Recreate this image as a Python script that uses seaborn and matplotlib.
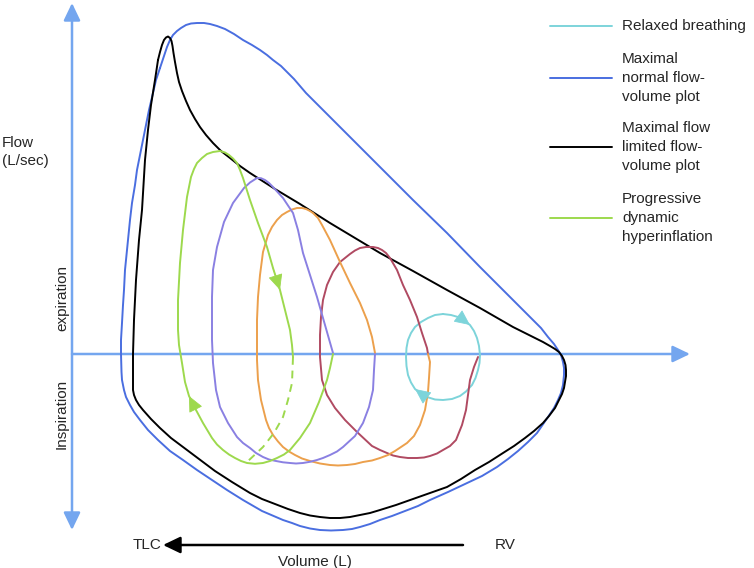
import numpy as np
import pandas as pd
import matplotlib
matplotlib.use("Agg")
import matplotlib.pyplot as plt
import seaborn as sns
from matplotlib.patches import FancyArrowPatch

sns.set_style("white")
plt.rcParams['font.family'] = ['Liberation Sans', 'DejaVu Sans']

# ---------------- data (diagram units: x = volume position, y = flow position, screen-like) -------------
normal_x = [160,164,167,170,173,177,181,186,191,197,204,210,217,225,234,243,252,260,267,273,281,288,294,300,306,313,347,380,413,447,480,513,524,533,541,548,554,558,561,563,564,564,563,561,558,554,548,537,528,518,508,497,482,465,448,430,418,405,392,380,370,360,352,343,331,320,310,300,292,283,262,243,227,212,197,183,170,158,148,140,134,130,126,124,122,121.5,121,121,122,123,124,125,127,130,132,135,137,140,143,146,149,153,156,160]
normal_y = [68,56,47,40,35,31,28,25,23.5,23,23,24,26,29,34,40,45,50,55,60,66,73,79,86,93,100,134,167,200,233,267,300,311,320,328,337,344,350,355,362,368,375,385,393,400,408,417,433,442,451,459,467,476,484,492,500,506,511,516,520,524,527,529,530,530.5,530,528.5,526,523,520,511,500,490,480,470,460,451,440,430,420,412,405,397,390,380,372,354,340,323,305,290,270,250,220,203,185,170,155,140,125,110,93,80,68]

limited_x = [158,160,162,164,166,168,170,171.5,172.5,173.5,175,177,179,182,186,190,195,200,206,213,221,230,240,250,275,300,330,355,380,413,447,480,513,525,535,543,550,555,559,562,564,565.5,566,566,565,564,562,559,555,549,543,534,525,514,503,489,475,461,447,430,413,396,380,370,360,350,340,330,320,310,300,288,275,262,250,232,215,199,183,171,160,151,143,139,136,134,133,133,133,133,134,136,139,142,145,148,151,155,158]
limited_y = [60,52,45,40,37.5,36.5,38,41,46,53,62,73,82,91,101,110,119,127,135,143,151,158,166,173,189,204,223,238,253,271,290,308,327,333,338,342,346,349,352,356,360,365,370,376,382,388,394,400,408,416,423,431,438,446,453,462,470,479,487,493,499,505,510,513,515,517,518,518,517,515.5,513,509,504,499,493,482,471,459,447,438,428,419,410,405,400,395,390,380,372,354,320,280,240,210,160,130,105,80,60]

relaxed_x = [443,451,458,464,470,474,477,479,480,479.5,478,475.5,472,466,460,452,443,435,427,421,415,411,408,406.5,406,406.5,408,411,415,421,428,435,443]
relaxed_y = [314,315,317,320.5,325,331,338,346,355,363,370,378,385,391.5,396,399,400,399.5,397,393.5,389,382.5,375,366,357,348,340,333,327,322,318,315,314]

red_x = [478,474,470,468,466,462,456,450,443,437,430,424,417,408,400,393,387,380,372,357,345,335,327,322,320,320,321,323,327,333,340,345,350,355,360,366,373,378,382,386,390,397,403,410,417,422,427,428]
red_y = [357,367,380,395,410,425,440,446,450,453.5,456,457.5,458,458,457,455.5,453,450,446,432,420,408,395,380,357,335,317,300,285,272,262,258,254,250.5,248,247,247,248,250,253,258,270,285,300,317,333,348,354]

orange_x = [428,430,429,428,425,420,414,407,395,388,380,372,363,355,347,338,330,320,310,302,295,289,283,278,273,269,266,261,258,257,257,257,258,260,263,268,272,277,282,287,292,297,302,306,310,313,318,322,330,340,350,360,367,372,375]
orange_y = [354,362,378,392,410,425,436,443,451,455,458,460.5,462,464,465,465.5,465,463.5,461,458.5,455,451.5,447,441.5,435,428,420,400,380,360,340,320,297,275,252,235,227,220,215,212,209.5,208,208,209,211,213,218,225,240,262,283,303,320,337,353]

purple_x = [375,374,373,369,363,355,343,337,330,323,317,310,303,296,290,283,276,269,263,256,250,243,237,228,220,216,213,212,212,213,217,224,233,244,250,257,261,265,269,273,283,293,298,303,310,317,325,333]
purple_y = [354,370,390,407,423,436,447,451.5,455,458,460,461.8,463,463.5,463,462.3,461,459.5,457,453,448,443,437,423,407,390,363,340,297,270,247,222,203,188,182.5,178,178.2,180,183,187,198,213,230,253,275,297,325,353]

green_x = [333,330,327,319,310,300,290,284,277,270,263,255,247,241,235,229,223,217,212,203,196,189,185,182,179,178,178,180,183,187,191,194,197,202,207,213,220,225,229,233,237,240,243,250,258,267,273,280,285,290,292,293]
green_y = [354,368,380,402,423,438,450,454.5,458,461,463,463.8,463,461,458,454.5,450,444.5,438,423,410,396,382,363,345,330,300,263,230,197,177,169,163,158,154,152,151,152.5,155,158.5,163,170,178,200,223,247,268,290,310,330,345,357]

green_dash_x = [293,292,288,283,274,263,247]
green_dash_y = [357,383,400,417,433,447,462]

legend_labels = ["Relaxed breathing", "Maximal\nnormal flow-\nvolume plot",
                 "Maximal flow\nlimited flow-\nvolume plot", "Progressive\ndynamic\nhyperinflation"]

C_AXIS = "#74a6ef"
C_NORMAL = "#4a6ee0"
C_LIMITED = "#000000"
C_RELAXED = "#7dd4da"
C_RED = "#b04a62"
C_ORANGE = "#eca04c"
C_PURPLE = "#8a80e2"
C_GREEN = "#9dd94d"

fig = plt.figure(figsize=(7.54, 5.68), dpi=100)
ax = fig.add_axes([0, 0, 1, 1])

AST = "-|>,head_length=0.75,head_width=0.36"

def big_arrow(p0, p1, color, style=AST):
    ax.add_patch(FancyArrowPatch(p0, p1, arrowstyle=style, mutation_scale=14, color=color,
                                 lw=1.8, shrinkA=0, shrinkB=0, zorder=1))

big_arrow((72, 530), (72, 3), C_AXIS, "<|-|>,head_length=0.75,head_width=0.36")
big_arrow((72, 354), (690, 354), C_AXIS)
big_arrow((463, 545), (163, 545), "black")

LW = 1.4

def curve(xs, ys, color, ls="-", z=3):
    df = pd.DataFrame({"v": xs, "f": ys})
    sns.lineplot(data=df, x="v", y="f", sort=False, estimator=None, color=color,
                 lw=LW, ls=ls, ax=ax, zorder=z)

curve(normal_x, normal_y, C_NORMAL)
curve(limited_x, limited_y, C_LIMITED)
curve(relaxed_x, relaxed_y, C_RELAXED)
curve(red_x, red_y, C_RED)
curve(orange_x, orange_y, C_ORANGE)
curve(purple_x, purple_y, C_PURPLE)
curve(green_x, green_y, C_GREEN)
curve(green_dash_x, green_dash_y, C_GREEN, ls=(0, (4, 3)))
ax.set_xlim(0, 754)
ax.set_ylim(568, 0)
ax.axis("off")

def head(xs, ys, i, color):
    ax.add_patch(FancyArrowPatch((xs[i], ys[i]), (xs[i + 1], ys[i + 1]),
                                 arrowstyle="-|>,head_length=0.9,head_width=0.42",
                                 mutation_scale=11, color=color, lw=0.6,
                                 shrinkA=0, shrinkB=0, zorder=4))

head(green_x, green_y, green_y.index(268), C_GREEN)
head(green_x, green_y, green_y.index(410), C_GREEN)
head(relaxed_x, relaxed_y, relaxed_y.index(320.5), C_RELAXED)
head(relaxed_x, relaxed_y, relaxed_y.index(393.5), C_RELAXED)

# legend
fs = 11
leg_colors = [C_RELAXED, C_NORMAL, C_LIMITED, C_GREEN]
leg_y = [26, 78, 147, 218]
for lab, col, yy in zip(legend_labels, leg_colors, leg_y):
    ax.plot([550, 612], [yy, yy], color=col, lw=LW)
    ax.text(622, yy, lab, fontsize=fs, va="center", ha="left", linespacing=1.42)

# axis texts
ax.text(2, 152, "Flow\n(L/sec)", fontsize=fs, va="center", ha="left", linespacing=1.3)
ax.text(62, 298, "expiration", fontsize=fs, rotation=90, va="center", ha="center")
ax.text(62, 414, "Inspiration", fontsize=fs, rotation=90, va="center", ha="center")
ax.text(133, 545, "TLC", fontsize=fs, va="center", ha="left")
ax.text(495, 545, "RV", fontsize=fs, va="center", ha="left")
ax.text(315, 562, "Volume (L)", fontsize=fs, va="center", ha="center")

fig.savefig("out.png", dpi=100)
